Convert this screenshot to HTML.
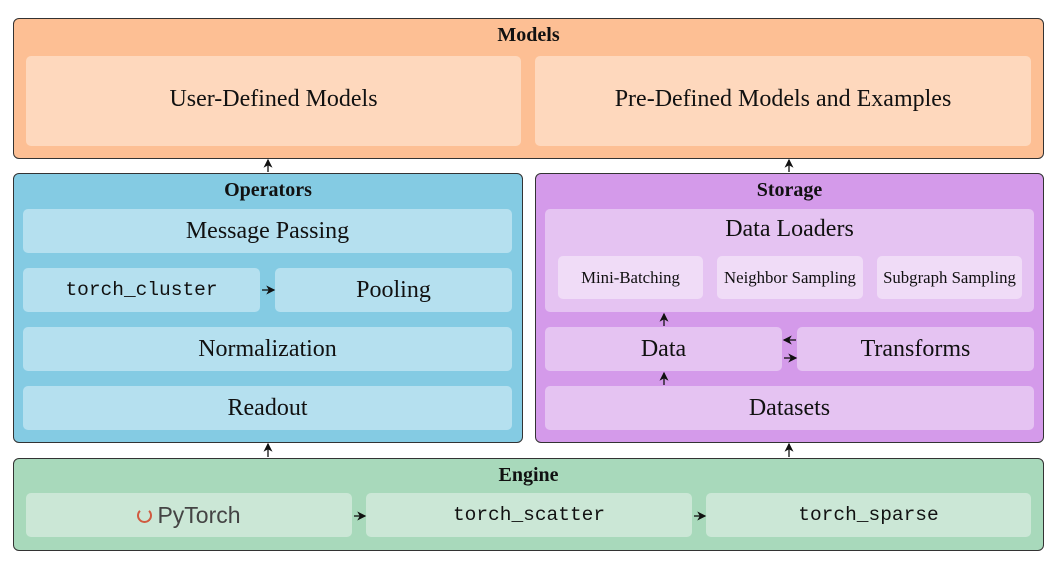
<!DOCTYPE html>
<html><head><meta charset="utf-8"><style>
body{margin:0;width:1063px;height:566px;background:#fff;position:relative;font-family:"Liberation Serif",serif;overflow:hidden}
.b{position:absolute;box-sizing:border-box;display:flex;align-items:center;justify-content:center;color:#111;font-size:24px}
.o{border:1.3px solid #333;border-radius:6px;align-items:flex-start;font-weight:bold;font-size:20px;padding-top:5px}
.i{border-radius:5px}
.m{font-family:"Liberation Mono",monospace;font-size:19.5px}
.s{font-size:16.8px}
svg{position:absolute;left:0;top:0}
</style></head><body>
<div class="b o" style="left:13px;top:18px;width:1031px;height:141px;background:#fdbf94">Models</div>
<div class="b i" style="left:26px;top:56px;width:495px;height:90px;background:#fed8bd;padding-bottom:4px">User-Defined Models</div>
<div class="b i" style="left:535px;top:56px;width:496px;height:90px;background:#fed8bd;padding-bottom:4px">Pre-Defined Models and Examples</div>

<div class="b o" style="left:13px;top:173px;width:510px;height:270px;background:#84cbe3">Operators</div>
<div class="b i" style="left:23px;top:209px;width:489px;height:44px;background:#b5e0ef">Message Passing</div>
<div class="b i m" style="left:23px;top:268px;width:237px;height:44px;background:#b5e0ef">torch_cluster</div>
<div class="b i" style="left:275px;top:268px;width:237px;height:44px;background:#b5e0ef">Pooling</div>
<div class="b i" style="left:23px;top:327px;width:489px;height:44px;background:#b5e0ef">Normalization</div>
<div class="b i" style="left:23px;top:386px;width:489px;height:44px;background:#b5e0ef">Readout</div>

<div class="b o" style="left:535px;top:173px;width:509px;height:270px;background:#d49aea">Storage</div>
<div class="b i" style="left:545px;top:209px;width:489px;height:103px;background:#e5c3f2;align-items:flex-start;padding-top:7px">Data Loaders</div>
<div class="b i s" style="left:558px;top:256px;width:145px;height:43px;background:#f0dcf7">Mini-Batching</div>
<div class="b i s" style="left:717px;top:256px;width:146px;height:43px;background:#f0dcf7">Neighbor Sampling</div>
<div class="b i s" style="left:877px;top:256px;width:145px;height:43px;background:#f0dcf7">Subgraph Sampling</div>
<div class="b i" style="left:545px;top:327px;width:237px;height:44px;background:#e5c3f2">Data</div>
<div class="b i" style="left:797px;top:327px;width:237px;height:44px;background:#e5c3f2">Transforms</div>
<div class="b i" style="left:545px;top:386px;width:489px;height:44px;background:#e5c3f2">Datasets</div>

<div class="b o" style="left:13px;top:458px;width:1031px;height:93px;background:#a8d9bb">Engine</div>
<div class="b i" style="left:26px;top:493px;width:326px;height:44px;background:#cbe7d6;font-family:'Liberation Sans',sans-serif;color:#444;font-size:23px"><span style="display:inline-block;width:11px;height:11px;border:2.5px solid #d05b40;border-radius:50%;border-top-color:transparent;margin-right:5px"></span>PyTorch</div>
<div class="b i m" style="left:366px;top:493px;width:326px;height:44px;background:#cbe7d6">torch_scatter</div>
<div class="b i m" style="left:706px;top:493px;width:325px;height:44px;background:#cbe7d6">torch_sparse</div>

<svg width="1063" height="566">
<defs><marker id="a" markerWidth="7" markerHeight="7" refX="6" refY="3.5" orient="auto"><path d="M0,0L7,3.5L0,7L2,3.5z" fill="#111"/></marker></defs>
<g stroke="#111" stroke-width="1.3" marker-end="url(#a)">
<line x1="268" y1="172" x2="268" y2="160"/>
<line x1="789" y1="172" x2="789" y2="160"/>
<line x1="268" y1="457" x2="268" y2="444"/>
<line x1="789" y1="457" x2="789" y2="444"/>
<line x1="262" y1="290" x2="274" y2="290"/>
<line x1="664" y1="326" x2="664" y2="314"/>
<line x1="664" y1="385" x2="664" y2="373"/>
<line x1="796" y1="340" x2="784" y2="340"/>
<line x1="784" y1="358" x2="796" y2="358"/>
<line x1="354" y1="516" x2="365" y2="516"/>
<line x1="694" y1="516" x2="705" y2="516"/>
</g></svg>
</body></html>
